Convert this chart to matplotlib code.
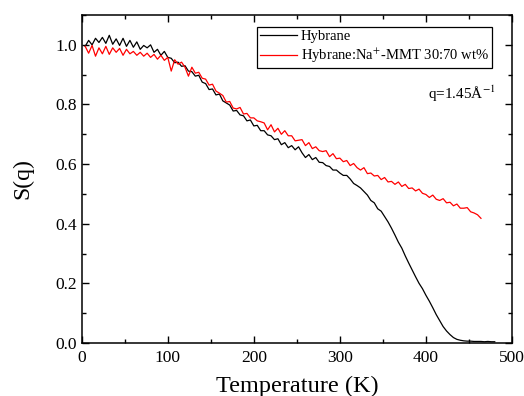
import matplotlib
matplotlib.use('Agg')
import matplotlib.pyplot as plt
from matplotlib.ticker import MultipleLocator, FormatStrFormatter
import numpy as np

plt.rcParams['font.family'] = 'Liberation Serif'
plt.rcParams['mathtext.fontset'] = 'stix'

# temperature grids (K)
temp_hyb = np.arange(4, 484, 4)
temp_mmt = np.arange(4, 468, 4)

# S(q)
s_hyb = [0.995, 1.015, 1.000, 1.022, 1.008, 1.025, 1.005, 1.032, 1.002, 1.020,
         0.998, 1.022, 0.995, 1.015, 0.992, 1.010, 0.985, 0.998, 0.990, 1.000,
         0.975, 0.985, 0.965, 0.978, 0.958,
         0.955, 0.940, 0.942, 0.928, 0.930, 0.912, 0.910, 0.895, 0.898, 0.875,
         0.870, 0.850, 0.852, 0.832, 0.835, 0.812, 0.805, 0.798, 0.778, 0.780,
         0.765, 0.762, 0.745, 0.748, 0.728, 0.730, 0.712, 0.712, 0.698, 0.695,
         0.682, 0.685, 0.665, 0.672, 0.655, 0.662, 0.648, 0.658, 0.638, 0.622,
         0.632, 0.615, 0.622, 0.606, 0.605, 0.595, 0.592, 0.580, 0.580, 0.570,
         0.562, 0.562, 0.550, 0.535, 0.528, 0.520, 0.508, 0.496, 0.478, 0.470,
         0.450, 0.442, 0.424, 0.406, 0.385, 0.362, 0.338, 0.318, 0.292, 0.268,
         0.245, 0.222, 0.200, 0.182, 0.160, 0.140, 0.118, 0.095, 0.075, 0.055,
         0.040, 0.028, 0.018, 0.012, 0.009, 0.007, 0.006, 0.006, 0.005, 0.005,
         0.005, 0.004, 0.005, 0.004, 0.004]

s_mmt = [0.995, 0.972, 0.998, 0.962, 0.990, 0.970, 0.995, 0.968, 0.990, 0.975,
         0.988, 0.965, 0.985, 0.970, 0.978, 0.965, 0.975, 0.962, 0.972, 0.958,
         0.968, 0.952, 0.965, 0.948, 0.958,
         0.912, 0.950, 0.935, 0.942, 0.925, 0.895, 0.925, 0.905, 0.908, 0.888,
         0.885, 0.865, 0.868, 0.845, 0.838, 0.830, 0.808, 0.810, 0.788, 0.785,
         0.790, 0.768, 0.770, 0.755, 0.755, 0.745, 0.742, 0.738, 0.715, 0.732,
         0.708, 0.720, 0.700, 0.712, 0.695, 0.695, 0.678, 0.680, 0.682, 0.662,
         0.672, 0.652, 0.658, 0.645, 0.642, 0.645, 0.625, 0.635, 0.618, 0.620,
         0.608, 0.612, 0.595, 0.602, 0.588, 0.580, 0.588, 0.568, 0.570, 0.560,
         0.562, 0.548, 0.555, 0.540, 0.542, 0.532, 0.540, 0.525, 0.532, 0.518,
         0.520, 0.510, 0.516, 0.502, 0.498, 0.488, 0.496, 0.482, 0.478, 0.484,
         0.470, 0.472, 0.460, 0.466, 0.452, 0.452, 0.454, 0.440, 0.436, 0.430,
         0.418]

fig = plt.figure(figsize=(5.24, 3.96), dpi=100)
ax = fig.add_axes([0.156, 0.134, 0.821, 0.828])

ax.plot(temp_hyb, s_hyb, color='black', lw=0.9, label='Hybrane')
ax.plot(temp_mmt, s_mmt, color='red', lw=0.9,
        label='Hybrane:Na$^{+}$-MMT 30:70 wt%')

ax.set_xlim(0, 500)
ax.set_ylim(0, 1.1)
ax.xaxis.set_major_locator(MultipleLocator(100))
ax.xaxis.set_minor_locator(MultipleLocator(50))
ax.yaxis.set_major_locator(MultipleLocator(0.2))
ax.yaxis.set_minor_locator(MultipleLocator(0.1))
ax.yaxis.set_major_formatter(FormatStrFormatter('%.1f'))
ax.tick_params(which='both', direction='in', top=True, right=True,
               labelsize=12.5, width=1.0)
ax.tick_params(which='major', length=5)
ax.tick_params(which='minor', length=3)
ax.tick_params(axis='x', pad=5)
for sp in ax.spines.values():
    sp.set_linewidth(1.1)

ax.set_xlabel('Temperature (K)', fontsize=17.5, labelpad=7)
ax.set_ylabel('S(q)', fontsize=17, labelpad=16)

ax.text(402, 0.835, 'q=1.45Å$^{-1}$', fontsize=11, va='center')

leg = ax.legend(loc='upper right', bbox_to_anchor=(0.954, 0.963),
                borderaxespad=0, fancybox=False, edgecolor='black',
                framealpha=1, fontsize=10.5, handlelength=2.5,
                handletextpad=0.3, labelspacing=0.25, borderpad=0.2)
leg.get_frame().set_linewidth(0.9)

fig.savefig('out.png', dpi=100)
